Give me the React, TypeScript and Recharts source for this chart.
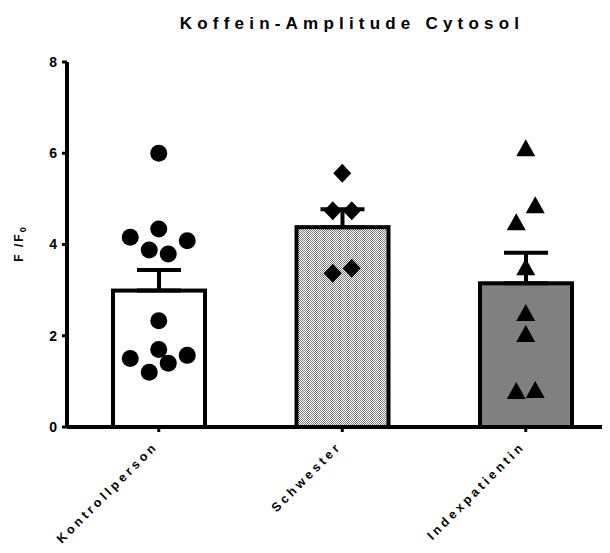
import React from 'react';
import { ComposedChart, Bar, ErrorBar, Scatter, XAxis, YAxis } from 'recharts';

const categories = ['Kontrollperson', 'Schwester', 'Indexpatientin'];
const means = [2.99, 4.38, 3.15];
const sems = [0.45, 0.39, 0.67];
const yTicks = [0, 2, 4, 6, 8];

const kontrollValues = [6.0, 4.34, 4.16, 4.08, 3.88, 3.79, 2.33, 1.7, 1.57, 1.5, 1.4, 1.2];
const kontrollSlots = [0, 0, -3, 3, -1, 1, 0, 0, 3, -3, 1, -1];
const schwesterValues = [5.56, 4.74, 4.74, 3.37, 3.48];
const schwesterSlots = [0, -1, 1, -1, 1];
const indexValues = [6.12, 4.87, 4.5, 3.51, 2.51, 2.05, 0.8, 0.82];
const indexSlots = [0, 1, -1, 0, 0, 0, -1, 1];

const barData = categories.map((name, i) => ({ name, mean: means[i], err: [0, sems[i]] }));
const mkPoints = (group: number, values: number[], slots: number[]) =>
  values.map((v, j) => ({ x: group, y: v, slot: slots[j] }));
const kontrollPts = mkPoints(0, kontrollValues, kontrollSlots);
const schwesterPts = mkPoints(1, schwesterValues, schwesterSlots);
const indexPts = mkPoints(2, indexValues, indexSlots);

const FONT = '"Liberation Sans", Arial, Helvetica, sans-serif';
const SLOT_PX = 9.5;

const BarShape = (props: any) => {
  const { x, y, width, height, payload } = props;
  const idx = categories.indexOf(payload?.name);
  if (idx === 1) {
    return (
      <g>
        <defs>
          <pattern id="checker" width="2" height="2" patternUnits="userSpaceOnUse">
            <rect x="0" y="0" width="2" height="2" fill="#ffffff" />
            <rect x="0" y="0" width="1" height="1" fill="#7a7a7a" />
            <rect x="1" y="1" width="1" height="1" fill="#7a7a7a" />
          </pattern>
        </defs>
        <rect x={x} y={y} width={width} height={height} fill="url(#checker)" stroke="#000" strokeWidth={4} />
      </g>
    );
  }
  const fill = idx === 2 ? '#808080' : '#ffffff';
  return <rect x={x} y={y} width={width} height={height} fill={fill} stroke="#000" strokeWidth={4} />;
};

const CircleShape = (props: any) => {
  const { cx, cy, payload } = props;
  return <circle cx={cx + (payload?.slot || 0) * SLOT_PX} cy={cy} r={8.5} fill="#000" />;
};
const DiamondShape = (props: any) => {
  const { cx, cy, payload } = props;
  const x = cx + (payload?.slot || 0) * SLOT_PX;
  return <path d={`M${x},${cy - 9.5}L${x + 9},${cy}L${x},${cy + 9.5}L${x - 9},${cy}Z`} fill="#000" />;
};
const TriangleShape = (props: any) => {
  const { cx, cy, payload } = props;
  const x = cx + (payload?.slot || 0) * SLOT_PX;
  return <path d={`M${x},${cy - 8.5}L${x + 9.5},${cy + 8.5}L${x - 9.5},${cy + 8.5}Z`} fill="#000" />;
};

const XTick = (props: any) => {
  const { x, y, payload } = props;
  return (
    <text
      transform={`translate(${x},${y + 13}) rotate(-45)`}
      textAnchor="end"
      fontFamily={FONT}
      fontWeight="bold"
      fontSize={12.5}
      letterSpacing={3.4}
      fill="#000"
    >
      {payload.value}
    </text>
  );
};

export default function App() {
  return (
    <div style={{ position: 'relative', width: 602, height: 545, overflow: 'hidden' }}>
      <ComposedChart
        width={620}
        height={545}
        data={barData}
        margin={{ top: 54, right: 10.5, left: 19, bottom: 6 }}
      >
        <XAxis
          dataKey="name"
          type="category"
          height={120}
          axisLine={{ stroke: '#000', strokeWidth: 4 }}
          tickLine={{ stroke: '#000', strokeWidth: 3 }}
          tickSize={5}
          tick={<XTick />}
          interval={0}
        />
        <XAxis xAxisId="num" dataKey="x" type="number" domain={[-0.5, 2.5]} hide allowDataOverflow />
        <YAxis
          type="number"
          domain={[0, 8]}
          ticks={yTicks}
          width={40}
          axisLine={{ stroke: '#000', strokeWidth: 4 }}
          tickLine={{ stroke: '#000', strokeWidth: 3 }}
          tickSize={5}
          tickMargin={5}
          tick={{ fill: '#000', fontSize: 14, fontWeight: 'bold', fontFamily: FONT }}
          allowDataOverflow
        />
        <Bar dataKey="mean" barSize={92} shape={<BarShape />} isAnimationActive={false}>
          <ErrorBar dataKey="err" width={22} stroke="#000" strokeWidth={4} direction="y" isAnimationActive={false} />
        </Bar>
        <Scatter xAxisId="num" data={kontrollPts} dataKey="y" shape={<CircleShape />} isAnimationActive={false} />
        <Scatter xAxisId="num" data={schwesterPts} dataKey="y" shape={<DiamondShape />} isAnimationActive={false} />
        <Scatter xAxisId="num" data={indexPts} dataKey="y" shape={<TriangleShape />} isAnimationActive={false} />
      </ComposedChart>
      <svg
        width={602}
        height={545}
        style={{ position: 'absolute', left: 0, top: 0, pointerEvents: 'none' }}
      >
        <text
          x={344}
          y={21}
          textAnchor="middle"
          fontFamily={FONT}
          fontWeight="bold"
          fontSize={17}
          letterSpacing={5.2}
          fill="#000"
        >
          Koffein-Amplitude Cytosol
        </text>
        <text
          transform="translate(14.7,235.5) rotate(-90)"
          textAnchor="middle"
          fontFamily={FONT}
          fontWeight="bold"
          fontSize={12}
          letterSpacing={2}
          fill="#000"
        >
          F /F
          <tspan dy={3} fontSize={9}>0</tspan>
        </text>
      </svg>
    </div>
  );
}
